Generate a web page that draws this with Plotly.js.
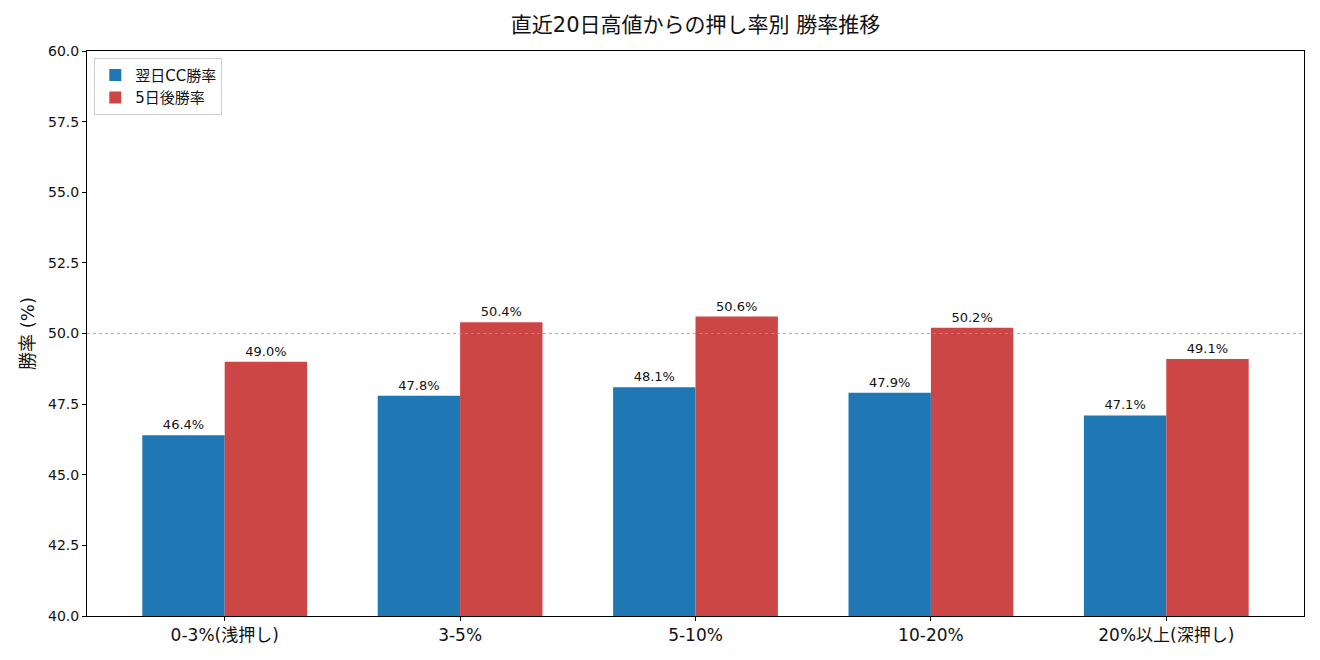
<!DOCTYPE html>
<html>
<head>
<meta charset="utf-8">
<script src="https://cdn.plot.ly/plotly-3.0.1.min.js"></script>
<style>
  html, body { margin: 0; padding: 0; background: #fff; }
  #chart { width: 1320px; height: 660px; }
</style>
</head>
<body>
<div id="chart"></div>
<script>
// Pullback buckets from the 20-day high
const categories = ['0-3%(浅押し)', '3-5%', '5-10%', '10-20%', '20%以上(深押し)'];
// Win rates (%)
const nextDayCC = [46.4, 47.8, 48.1, 47.9, 47.1];
const fiveDay = [49.0, 50.4, 50.6, 50.2, 49.1];
const yTicks = [40.0, 42.5, 45.0, 47.5, 50.0, 52.5, 55.0, 57.5, 60.0];

const FONT = 'DejaVu Sans, "Noto Sans CJK JP", sans-serif';
const barWidth = 0.35;
const idx = categories.map((_, i) => i);

const traces = [
  {
    type: 'bar',
    name: '翌日CC勝率',
    x: idx.map(i => i - barWidth / 2),
    y: nextDayCC,
    width: barWidth,
    marker: { color: '#1f77b4' },
    text: nextDayCC.map(v => v.toFixed(1) + '%'),
    textposition: 'outside',
    textfont: { size: 13, color: '#111', family: FONT },
    cliponaxis: false,
    hoverinfo: 'skip'
  },
  {
    type: 'bar',
    name: '5日後勝率',
    x: idx.map(i => i + barWidth / 2),
    y: fiveDay,
    width: barWidth,
    marker: { color: '#cc4646' },
    text: fiveDay.map(v => v.toFixed(1) + '%'),
    textposition: 'outside',
    textfont: { size: 13, color: '#111', family: FONT },
    cliponaxis: false,
    hoverinfo: 'skip'
  }
];

const layout = {
  width: 1320,
  height: 660,
  margin: { l: 87, r: 16, t: 51, b: 44 },
  paper_bgcolor: '#fff',
  plot_bgcolor: '#fff',
  font: { family: FONT, size: 14, color: '#111' },
  title: {
    text: '直近20日高値からの押し率別 勝率推移',
    font: { size: 21, color: '#111', family: FONT },
    xref: 'paper', x: 0.5, xanchor: 'center',
    yref: 'container', y: 0.962, yanchor: 'middle'
  },
  barmode: 'overlay',
  showlegend: true,
  legend: {
    x: 0.006, y: 0.988, xanchor: 'left', yanchor: 'top',
    bgcolor: 'rgba(255,255,255,0.8)',
    bordercolor: '#cccccc', borderwidth: 1,
    font: { size: 15, family: FONT, color: '#111' },
    itemwidth: 30,
    tracegroupgap: 2
  },
  xaxis: {
    range: [-0.585, 4.585],
    tickmode: 'array',
    tickvals: idx,
    ticktext: categories,
    ticks: 'outside', ticklen: 4, tickcolor: '#000',
    showline: true, linecolor: '#000', linewidth: 1, mirror: true,
    showgrid: false, zeroline: false,
    tickfont: { size: 17, family: FONT, color: '#111' }
  },
  yaxis: {
    range: [40, 60],
    tickmode: 'array',
    tickvals: yTicks,
    ticktext: yTicks.map(v => v.toFixed(1)),
    ticks: 'outside', ticklen: 4, tickcolor: '#000',
    showline: true, linecolor: '#000', linewidth: 1, mirror: true,
    showgrid: false, zeroline: false,
    tickfont: { size: 14, family: FONT, color: '#111' },
    title: { text: '勝率 (%)', font: { size: 18, family: FONT, color: '#111' }, standoff: 8 }
  },
  shapes: [
    {
      type: 'line', xref: 'paper', x0: 0, x1: 1, yref: 'y', y0: 50, y1: 50,
      line: { color: '#999999', width: 0.8, dash: 'dot' },
      layer: 'above'
    }
  ]
};

Plotly.newPlot('chart', traces, layout, { displayModeBar: false, staticPlot: true });
</script>
</body>
</html>
